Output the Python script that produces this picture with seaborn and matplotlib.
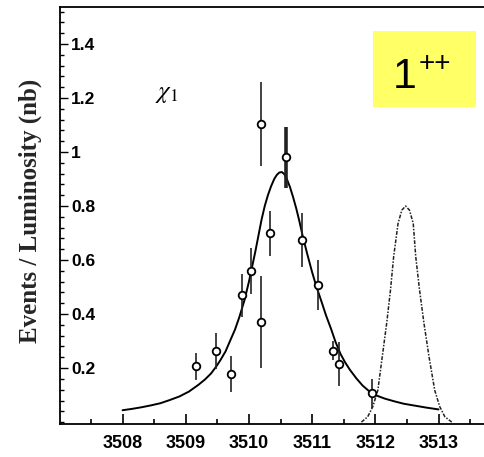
import numpy as np
import pandas as pd
import matplotlib
matplotlib.use("Agg")
import matplotlib.pyplot as plt
from matplotlib.patches import Rectangle
from matplotlib.ticker import MultipleLocator, FixedLocator
import seaborn as sns

# ---- data ----
pt_x = [3509.17, 3509.48, 3509.71, 3509.89, 3510.03, 3510.19, 3510.19, 3510.34,
        3510.58, 3510.84, 3511.09, 3511.33, 3511.42, 3511.94]
pt_y = [0.207, 0.263, 0.178, 0.470, 0.560, 1.104, 0.371, 0.699,
        0.980, 0.674, 0.507, 0.264, 0.215, 0.106]
pt_err = [0.050, 0.068, 0.068, 0.080, 0.085, 0.156, 0.170, 0.083,
          0.113, 0.100, 0.093, 0.035, 0.080, 0.052]
thick_idx = [8]

fit_x = [3508.00, 3508.15, 3508.30, 3508.45, 3508.60, 3508.75, 3508.90, 3509.05,
         3509.20, 3509.30, 3509.40, 3509.48, 3509.55, 3509.63, 3509.70, 3509.78,
         3509.85, 3509.93, 3510.00, 3510.05, 3510.10, 3510.15, 3510.20, 3510.25,
         3510.30, 3510.35, 3510.40, 3510.44, 3510.48, 3510.52, 3510.56, 3510.60,
         3510.65, 3510.70, 3510.75, 3510.80, 3510.85, 3510.92, 3511.00, 3511.07,
         3511.15, 3511.22, 3511.30, 3511.37, 3511.45, 3511.52, 3511.60, 3511.70,
         3511.80, 3511.90, 3512.00, 3512.15, 3512.30, 3512.45, 3512.65, 3512.80,
         3513.00]
fit_y = [0.044, 0.049, 0.055, 0.062, 0.070, 0.082, 0.095, 0.113,
         0.138, 0.157, 0.180, 0.205, 0.230, 0.262, 0.300, 0.343,
         0.390, 0.452, 0.520, 0.575, 0.630, 0.690, 0.750, 0.800,
         0.840, 0.873, 0.900, 0.915, 0.924, 0.926, 0.918, 0.900,
         0.870, 0.832, 0.790, 0.742, 0.690, 0.625, 0.555, 0.500,
         0.445, 0.395, 0.345, 0.297, 0.252, 0.222, 0.193, 0.162,
         0.135, 0.115, 0.100, 0.087, 0.077, 0.068, 0.060, 0.054,
         0.047]

dash_x = [3511.78, 3511.88, 3511.96, 3512.04, 3512.11, 3512.18, 3512.24, 3512.29,
          3512.36, 3512.42, 3512.48, 3512.54, 3512.60, 3512.64, 3512.70, 3512.77,
          3512.85, 3512.94, 3513.02, 3513.10, 3513.21]
dash_y = [0.000, 0.020, 0.057, 0.118, 0.242, 0.366, 0.489, 0.612,
          0.736, 0.785, 0.800, 0.785, 0.736, 0.612, 0.489, 0.366,
          0.242, 0.118, 0.057, 0.020, 0.000]

x_ticks = [3508, 3509, 3510, 3511, 3512, 3513]
y_ticks = [0.2, 0.4, 0.6, 0.8, 1.0, 1.2, 1.4]
y_tick_labels = ["0.2", "0.4", "0.6", "0.8", "1", "1.2", "1.4"]

ylabel = "Events / Luminosity (nb)"
tag = "1"
tag_sup = "++"

# ---- plotting ----
sns.set_theme(style="ticks")
plt.rcParams["font.family"] = ["Liberation Sans", "DejaVu Sans"]
plt.rcParams["mathtext.fontset"] = "stix"
plt.rcParams.update({
    "xtick.direction": "in", "ytick.direction": "in",
    "xtick.color": "black", "ytick.color": "black",
    "axes.axisbelow": False,
})

fig = plt.figure(figsize=(4.84, 4.57), dpi=100)
ax = fig.add_axes([60/484, 1 - 424/457, 1 - 60/484, (424 - 7)/457])

fit_df = pd.DataFrame({"x": fit_x, "y": fit_y})
dash_df = pd.DataFrame({"x": dash_x, "y": dash_y})
pts_df = pd.DataFrame({"x": pt_x, "y": pt_y, "err": pt_err})

sns.lineplot(data=fit_df, x="x", y="y", ax=ax, color="black", lw=1.4,
             estimator=None, sort=False)
sns.lineplot(data=dash_df, x="x", y="y", ax=ax, color="#222222", lw=1.1,
             estimator=None, sort=False, linestyle=(0, (2.5, 1.0, 1, 1.0)))

for i, (x, y, e) in enumerate(zip(pt_x, pt_y, pt_err)):
    lw = 2.6 if i in thick_idx else 1.2
    ax.errorbar([x], [y], yerr=[e], fmt="none", ecolor="#222222",
                elinewidth=lw, capsize=0, zorder=3)
sns.scatterplot(data=pts_df, x="x", y="y", ax=ax, marker="o", s=30,
                facecolor="white", edgecolor="black", linewidth=1.3, zorder=4)

ax.set_xlim(3507.01, 3513.72)
ax.set_ylim(-0.007, 1.537)
ax.xaxis.set_major_locator(FixedLocator(x_ticks))
ax.set_xticklabels([str(t) for t in x_ticks], fontweight="bold", fontsize=13)
ax.set_yticks(y_ticks)
ax.set_yticklabels(y_tick_labels, fontweight="bold", fontsize=12.5)
ax.xaxis.set_minor_locator(MultipleLocator(0.5))
ax.yaxis.set_minor_locator(MultipleLocator(0.04))
ax.xaxis.set_tick_params(which="both", bottom=True, top=False, direction="in",
                         color="black")
ax.xaxis.set_tick_params(which="major", length=7, width=1.2, pad=8)
ax.xaxis.set_tick_params(which="minor", length=3.5, width=1.2)
ax.yaxis.set_tick_params(which="both", left=True, right=False, direction="in",
                         color="black")
ax.yaxis.set_tick_params(which="major", length=6, width=1.0, pad=-8)
ax.yaxis.set_tick_params(which="minor", length=3, width=1.0)
for lab in ax.get_yticklabels():
    lab.set_horizontalalignment("left")
ax.set_xlabel("")
ax.set_ylabel(ylabel, family=["Liberation Serif"], fontweight="bold", fontsize=18)
ax.yaxis.set_label_coords(-0.043, 0.51)

ax.spines["right"].set_visible(False)
for s in ["left", "bottom", "top"]:
    ax.spines[s].set_color("black")
    ax.spines[s].set_linewidth(1.3)

ax.text(3508.52, 1.22, r"$\chi_1$", fontsize=18, color="black", ha="left", va="center")

# yellow tag box
ax.add_patch(Rectangle((0.7375, 0.760), 0.2435, 0.183, transform=ax.transAxes,
                       facecolor="#FFFF66", edgecolor="none", clip_on=False, zorder=5))
fig.text(404.5/484, 1 - 88/457, tag, fontsize=31, ha="center", va="baseline",
         color="black", zorder=6)
fig.text(419/484, 1 - 64/457, tag_sup, fontsize=20, ha="left", va="center",
         color="black", zorder=6)

fig.savefig("out.png", dpi=100)
